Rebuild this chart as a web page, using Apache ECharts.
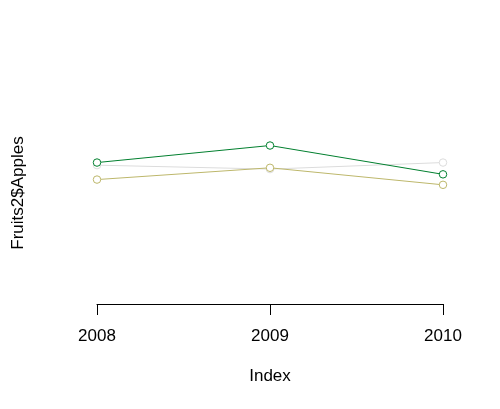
<!DOCTYPE html>
<html>
<head>
<meta charset="utf-8">
<script src="https://cdn.jsdelivr.net/npm/echarts@6/dist/echarts.min.js"></script>
<style>html,body{margin:0;padding:0;background:#fff;}#c{width:500px;height:409px;}</style>
</head>
<body>
<div id="c"></div>
<script>
const years = [2008, 2009, 2010];
const apples = [98, 111, 89];
const oranges = [96, 93, 98];
const bananas = [85, 94, 81];
const xTickLabels = ['2008', '2009', '2010'];

const chart = echarts.init(document.getElementById('c'), null, {renderer: 'canvas'});
const font = 'Liberation Sans, Arial, sans-serif';
function mk(name, vals, color) {
  return {
    name: name, type: 'line', data: years.map((y, i) => [y, vals[i]]),
    symbol: 'circle', symbolSize: 7.5, clip: false,
    itemStyle: {color: '#fff', borderColor: color, borderWidth: 1},
    lineStyle: {color: color, width: 1},
    emphasis: {disabled: true}, animation: false
  };
}
chart.setOption({
  animation: false,
  grid: {left: 97, right: 57, top: 82, bottom: 105},
  xAxis: {
    type: 'value', min: 2008, max: 2010, interval: 1,
    name: 'Index', nameLocation: 'middle', nameGap: 64,
    nameTextStyle: {color: '#000', fontSize: 17, fontFamily: font},
    axisLine: {show: true, onZero: false, lineStyle: {color: '#000', width: 1}},
    axisTick: {show: true, length: 11, lineStyle: {color: '#000', width: 1}},
    axisLabel: {color: '#000', fontSize: 17, fontFamily: font, margin: 24,
      formatter: v => xTickLabels[years.indexOf(v)] || ''},
    splitLine: {show: false}
  },
  yAxis: {
    type: 'value', min: -10, max: 159.5,
    name: 'Fruits2$Apples', nameLocation: 'middle', nameGap: 70, nameRotate: 90,
    nameTextStyle: {color: '#000', fontSize: 17, fontFamily: font},
    axisLine: {show: false}, axisTick: {show: false}, axisLabel: {show: false},
    splitLine: {show: false}
  },
  series: [
    mk('Oranges', oranges, '#DCDCDC'),
    mk('Bananas', bananas, '#BDB76B'),
    mk('Apples', apples, '#007F2E')
  ]
});
</script>
</body>
</html>
